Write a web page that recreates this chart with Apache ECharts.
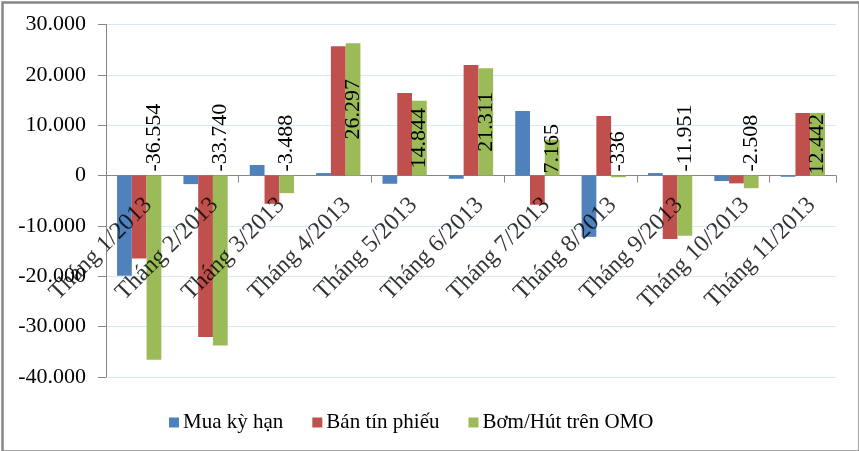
<!DOCTYPE html>
<html>
<head>
<meta charset="utf-8">
<script src="https://cdn.jsdelivr.net/npm/echarts@6/dist/echarts.min.js"></script>
<style>
html,body{margin:0;padding:0;background:#fff;}
#c{width:859px;height:451px;}
</style>
</head>
<body>
<div id="c"></div>
<script>
const categories = ["Tháng 1/2013","Tháng 2/2013","Tháng 3/2013","Tháng 4/2013","Tháng 5/2013","Tháng 6/2013","Tháng 7/2013","Tháng 8/2013","Tháng 9/2013","Tháng 10/2013","Tháng 11/2013"];
const seriesNames = ["Mua kỳ hạn","Bán tín phiếu","Bơm/Hút trên OMO"];
const muaKyHan = [-19900,-1700,2100,500,-1630,-640,12820,-12170,500,-1090,-240];
const banTinPhieu = [-16460,-32050,-5600,25700,16400,21970,-5800,11830,-12620,-1550,12430];
const bomHutOMO = [-36554,-33740,-3488,26297,14844,21311,7165,-336,-11951,-2508,12442];
const yMin = -40000, yMax = 30000, yStep = 10000;

function fmt(v){
  const s = Math.abs(Math.round(v)).toString().replace(/\B(?=(\d{3})+(?!\d))/g,'.');
  return (v < 0 ? '-' : '') + s;
}
const FONT = 'Liberation Serif';
const greenData = bomHutOMO.map(v => ({
  value: v,
  label: v >= 10000
    ? {position: 'inside'}
    : (v >= 0
      ? {position: 'insideBottom', distance: 2, align: 'left', verticalAlign: 'middle'}
      : {position: ['50%', -4], align: 'left', verticalAlign: 'middle'})
}));
const catLabelData = categories.map((c, i) => [i, 0]);

const chart = echarts.init(document.getElementById('c'), null, {renderer:'canvas'});
chart.setOption({
  animation: false,
  backgroundColor: '#fff',
  textStyle: {fontFamily: FONT},
  graphic: [{
    type: 'rect', left: 0, top: 0,
    shape: {x: 1, y: 1, width: 857, height: 449},
    style: {fill: 'none', stroke: '#878787', lineWidth: 2.5},
    silent: true
  }],
  grid: {left: 106, right: 23, top: 24.5, bottom: 74, containLabel: false, outerBoundsMode: 'none'},
  legend: {
    bottom: 13, left: 164,
    itemWidth: 10, itemHeight: 10, itemGap: 29,
    icon: 'rect',
    textStyle: {fontFamily: FONT, fontSize: 21, color: '#000', padding: [0,0,0,-1]},
    data: seriesNames
  },
  xAxis: {
    type: 'category',
    data: categories,
    axisLine: {onZero: true, lineStyle: {color: '#868686', width: 1}},
    axisTick: {show: true, length: 7, lineStyle: {color: '#868686'}},
    axisLabel: {show: false},
    splitLine: {show: false}
  },
  yAxis: {
    type: 'value',
    min: yMin, max: yMax, interval: yStep,
    axisLine: {show: true, lineStyle: {color: '#868686', width: 1}},
    axisTick: {show: true, length: 8, lineStyle: {color: '#868686'}},
    axisLabel: {margin: 20, fontFamily: FONT, fontSize: 22, color: '#000', formatter: v => fmt(v)},
    splitLine: {show: true, lineStyle: {color: '#d3ebf3', width: 1}}
  },
  series: [
    {name: seriesNames[0], type: 'bar', data: muaKyHan, itemStyle: {color: '#4F81BD'}, barGap: '0%', barCategoryGap: '33.3%'},
    {name: seriesNames[1], type: 'bar', data: banTinPhieu, itemStyle: {color: '#C0504D'}, barGap: '0%', barCategoryGap: '33.3%'},
    {name: seriesNames[2], type: 'bar', data: greenData, itemStyle: {color: '#9BBB59'}, barGap: '0%', barCategoryGap: '33.3%',
     label: {show: true, rotate: 90, fontFamily: FONT, fontSize: 22, color: '#000', formatter: p => fmt(p.value)}},
    {type: 'scatter', data: catLabelData, symbolSize: 0, silent: true, z: 5,
     label: {show: true, position: [9, 26], rotate: 45, align: 'right', verticalAlign: 'middle',
             fontFamily: FONT, fontSize: 24, color: '#000', formatter: p => categories[p.dataIndex]}}
  ]
});
</script>
</body>
</html>
